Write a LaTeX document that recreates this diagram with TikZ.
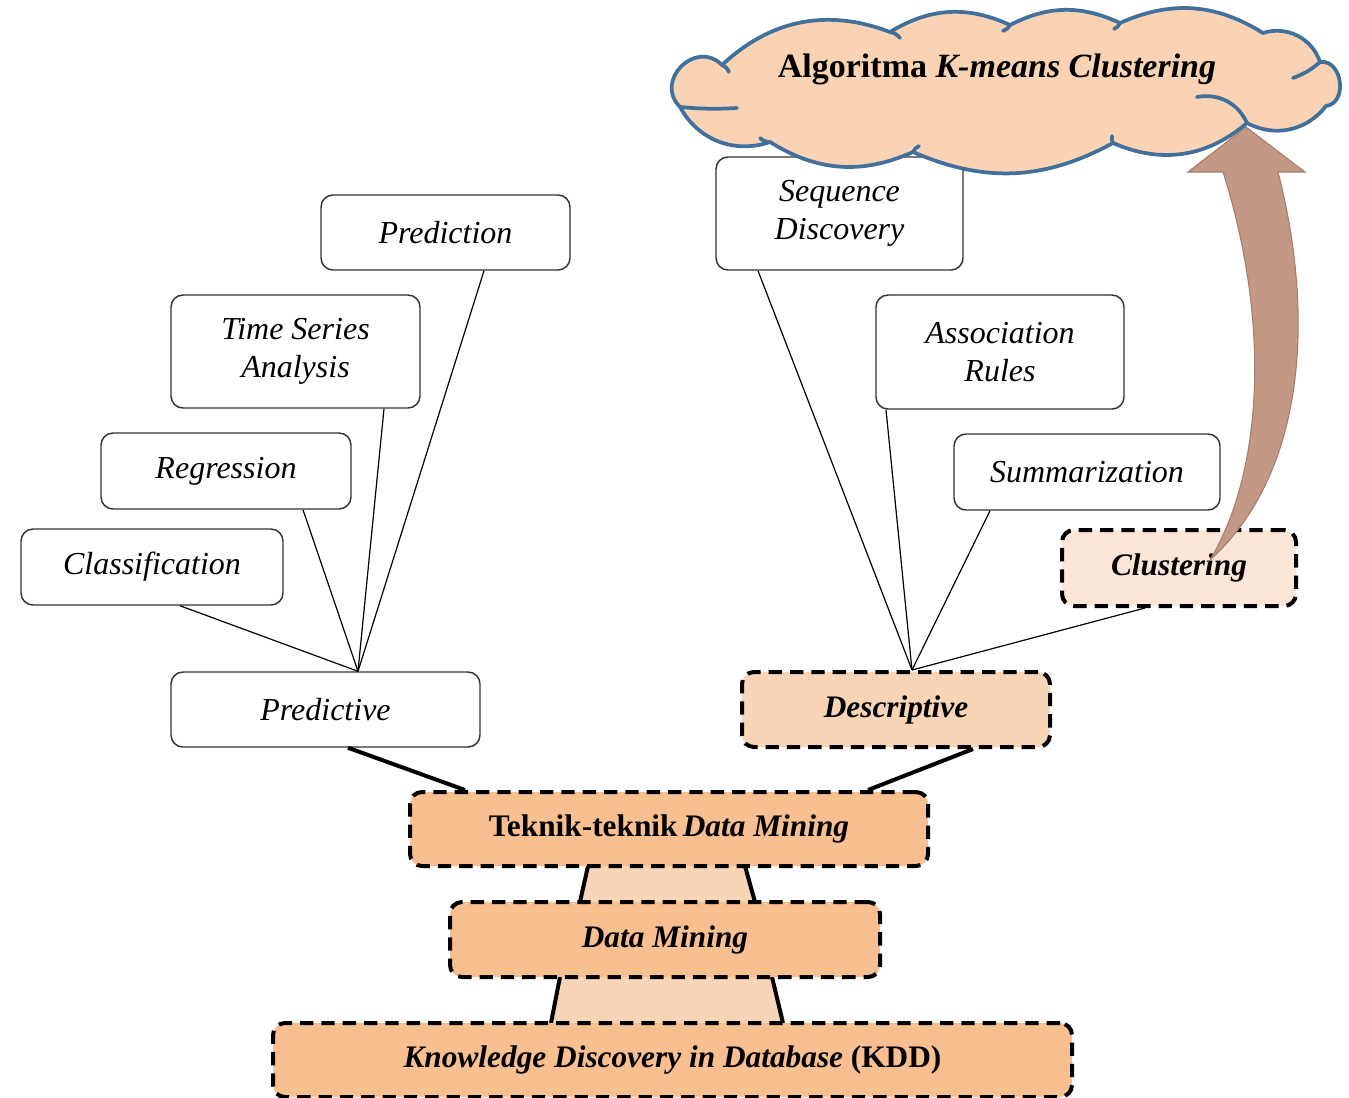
\documentclass[tikz,border=0pt]{standalone}
\usepackage{fontspec}
\setmainfont{Liberation Serif}
\usetikzlibrary{calc}
\definecolor{orangebox}{HTML}{F8BF90}
\definecolor{peach}{HTML}{F9D5B7}
\definecolor{lightpeach}{HTML}{FCE6D8}
\definecolor{cloudfill}{HTML}{F9D3B3}
\definecolor{cloudline}{HTML}{41709C}
\definecolor{arrowfill}{HTML}{C39885}
\definecolor{arrowline}{HTML}{A67C6A}
\begin{document}
\begin{tikzpicture}[x=0.75pt,y=-0.75pt,
  wbox/.style={draw=black!80, line width=1.1pt, rounded corners=9pt, fill=white,
    align=center, inner sep=0pt, font=\fontsize{24}{28}\selectfont\itshape},
  dbox/.style={draw=black, line width=3pt, dash pattern=on 10pt off 6pt, rounded corners=9pt,
    align=center, inner sep=0pt, font=\fontsize{23.5}{27}\selectfont\bfseries},
  thin/.style={draw=black, line width=0.9pt},
  thick/.style={draw=black, line width=3pt},
  trap/.style={fill=peach},
  cloudstroke/.style={draw=cloudline, line width=2.8pt, line cap=round},
]
\useasboundingbox (0,0) rectangle (1349,1097);

% white boxes
\node[wbox, minimum width=186.75pt, minimum height=56.25pt] (predn) at (445.5,232.5) {Prediction};
\node[wbox, minimum width=186.75pt, minimum height=84.75pt] (tsa) at (295.5,351.5) {Time Series\\Analysis};
\node[wbox, minimum width=187.5pt, minimum height=57pt] (regr) at (226,471) {Regression};
\node[wbox, minimum width=196.5pt, minimum height=57pt] (clsf) at (152,567) {Classification};
\node[wbox, minimum width=231.75pt, minimum height=56.25pt] (pred) at (325.5,709.5) {Predictive};
\node[wbox, minimum width=185.25pt, minimum height=84.75pt] (seq) at (839.5,213.5) {Sequence\\Discovery};
\node[wbox, minimum width=186pt, minimum height=85.5pt] (assoc) at (1000,352) {Association\\Rules};
\node[wbox, minimum width=199.5pt, minimum height=57pt] (summ) at (1087,472) {Summarization};

% dashed boxes
\node[dbox, fill=lightpeach, minimum width=175.5pt, minimum height=57pt] (clus) at (1179,568) {\itshape Clustering};
\node[dbox, fill=peach, minimum width=231pt, minimum height=56.25pt] (desc) at (896,709.5) {\itshape Descriptive};

% trapezoids (behind lower boxes)
\coordinate (tekS) at (669,866);
\coordinate (dmN) at (665,902);
\coordinate (dmS) at (665,977);
\coordinate (kddN) at (672.5,1023);
\fill[trap] ($(tekS)+(-81,0)$) -- ($(dmN)+(-85,0)$) -- ($(dmN)+(90,0)$) -- ($(tekS)+(76,0)$) -- cycle;
\draw[thick] ($(tekS)+(-81,0)$) -- ($(dmN)+(-85,0)$);
\draw[thick] ($(tekS)+(76,0)$) -- ($(dmN)+(90,0)$);
\fill[trap] ($(dmS)+(-105,0)$) -- ($(kddN)+(-121.5,0)$) -- ($(kddN)+(110.5,0)$) -- ($(dmS)+(107,0)$) -- cycle;
\draw[thick] ($(dmS)+(-105,0)$) -- ($(kddN)+(-121.5,0)$);
\draw[thick] ($(dmS)+(107,0)$) -- ($(kddN)+(110.5,0)$);

\node[dbox, fill=orangebox, minimum width=388.5pt, minimum height=55.5pt] (tek) at (669,829) {Teknik-teknik\,\itshape Data Mining};
\node[dbox, fill=orangebox, minimum width=322.5pt, minimum height=56.25pt] (dm) at (665,939.5) {\itshape Data Mining};
\node[dbox, fill=orangebox, minimum width=599.25pt, minimum height=55.5pt] (kdd) at (672.5,1060) {{\itshape Knowledge Discovery in Database} (KDD)};

% thin connectors, left hub
\coordinate (hubL) at ($(pred.north)+(32.5,0)$);
\draw[thin] ($(clsf.south)+(28,0)$) -- (hubL);
\draw[thin] ($(regr.south)+(77,0)$) -- (hubL);
\draw[thin] ($(tsa.south)+(88.5,0)$) -- (hubL);
\draw[thin] ($(predn.south)+(38.5,0)$) -- (hubL);
% right hub
\coordinate (hubR) at ($(desc.north)+(16,0)$);
\draw[thin] ($(seq.south)+(-81.5,0)$) -- (hubR);
\draw[thin] ($(assoc.south)+(-114,0)$) -- (hubR);
\draw[thin] ($(summ.south)+(-97,0)$) -- (hubR);
\draw[thin] ($(clus.south)+(-34,0)$) -- (hubR);

% thick connectors
\draw[thick] ($(pred.south)+(22.5,0)$) -- ($(tek.north)+(-204,0)$);
\draw[thick] ($(desc.south)+(77,0)$) -- ($(tek.north)+(199,0)$);

% curved block arrow from Clustering to cloud
\filldraw[fill=arrowfill, draw=arrowline, line width=0.8pt]
  (1210,560) .. controls (1264,470) and (1270,320) .. (1223,172)
  -- (1188,172) -- (1246,127) -- (1305,172) -- (1278,172)
  .. controls (1316,320) and (1304,475) .. (1210,560) -- cycle;

% cloud
\filldraw[fill=cloudfill, cloudstroke, line join=round]
  (680,107) to[bend left=90, looseness=1.6] (722,65)
  to[bend left=32] (890,32)
  to[bend left=28] (1010,25)
  to[bend left=26] (1120,23)
  to[bend left=28] (1263,33)
  to[bend left=45] (1320,62)
  to[bend left=90, looseness=1.3] (1326,106)
  to[bend left=40] (1247,123)
  to[bend left=32] (1113,143)
  to[bend left=26] (913,152)
  to[bend left=28] (770,142)
  to[bend left=40] cycle;
% inner strokes and hooks
\draw[cloudstroke] (680,107) to[bend right=4] (737,108);
\draw[cloudstroke] (1197,97) to[bend left=38] (1247,123);
\draw[cloudstroke] (1320,62) to[bend left=10] (1293,78);
\draw[cloudstroke] (722,65) to[bend left=20] (729,72);
\draw[cloudstroke] (890,32) to[bend left=20] (900,38);
\draw[cloudstroke] (1010,25) to[bend left=20] (1003,31);
\draw[cloudstroke] (1120,23) to[bend left=20] (1114,29);
\draw[cloudstroke] (1113,143) to[bend left=20] (1112,136);
\draw[cloudstroke] (913,152) to[bend left=20] (919,146);
\draw[cloudstroke] (770,142) to[bend left=20] (760,138);
\node[font=\fontsize{25.5}{30}\selectfont\bfseries] (cloudtxt) at (997,69) {Algoritma {\itshape K-means Clustering}};
\end{tikzpicture}
\end{document}
